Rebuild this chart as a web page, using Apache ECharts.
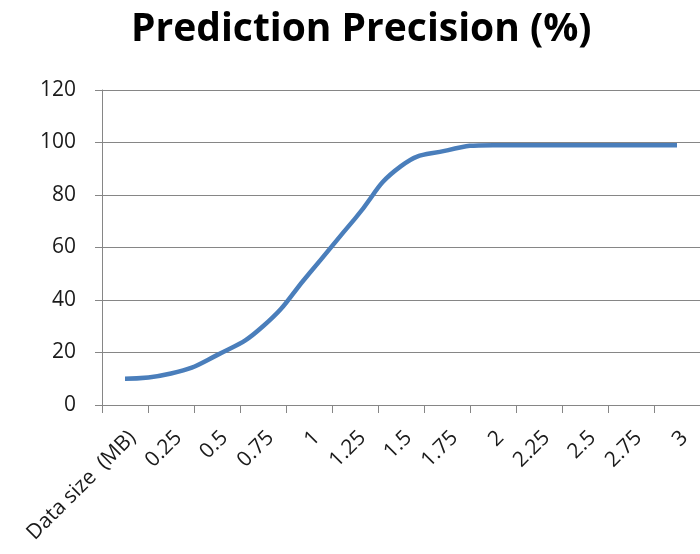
<!DOCTYPE html>
<html>
<head>
<meta charset="utf-8">
<script src="https://cdn.jsdelivr.net/npm/echarts@6/dist/echarts.min.js"></script>
<style>
  html, body { margin: 0; padding: 0; background: #ffffff; }
  #chart { width: 700px; height: 554px; }
</style>
</head>
<body>
<div id="chart"></div>
<script>
// Category labels along the horizontal axis (first slot names the axis)
const categories = ['Data size  (MB)', '0.25', '0.5', '0.75', '1', '1.25', '1.5', '1.75', '2', '2.25', '2.5', '2.75', '3'];
// Prediction precision in percent for each data size
const precision = [10, 12, 19, 30, 50, 71, 91, 97, 99, 99, 99, 99, 99];
// Value axis range
const yMin = 0, yMax = 120, yStep = 20;

const font = '"Open Sans", "Noto Sans", "Liberation Sans", sans-serif';
const axisGray = '#868686';

const chart = echarts.init(document.getElementById('chart'), null, { renderer: 'canvas' });
chart.setOption({
  animation: false,
  backgroundColor: '#ffffff',
  title: {
    text: 'Prediction Precision (%)',
    left: 126,
    top: 5,
    textStyle: { fontFamily: font, fontWeight: 'bold', fontSize: 39, color: '#000000' }
  },
  grid: { left: 102, top: 90, width: 604, height: 315, containLabel: false },
  xAxis: {
    type: 'category',
    data: categories,
    boundaryGap: true,
    axisLine: { lineStyle: { color: axisGray, width: 1 } },
    axisTick: { show: true, length: 8, lineStyle: { color: axisGray } },
    axisLabel: {
      interval: 0,
      rotate: 45,
      margin: 22,
      verticalAlign: 'top',
      fontFamily: font,
      fontSize: 21,
      color: '#1a1a1a'
    },
    splitLine: { show: false }
  },
  yAxis: {
    type: 'value',
    min: yMin,
    max: yMax,
    interval: yStep,
    axisLine: { show: true, lineStyle: { color: axisGray, width: 1 } },
    axisTick: { show: true, length: 7, lineStyle: { color: axisGray } },
    axisLabel: { margin: 26, fontFamily: font, fontSize: 21, color: '#1a1a1a' },
    splitLine: { show: true, lineStyle: { color: '#868686', width: 1 } }
  },
  series: [{
    type: 'line',
    data: precision,
    smooth: 0.5,
    showSymbol: false,
    lineStyle: { color: '#4A7EBB', width: 4.5 },
    itemStyle: { color: '#4A7EBB' }
  }]
});
</script>
</body>
</html>
